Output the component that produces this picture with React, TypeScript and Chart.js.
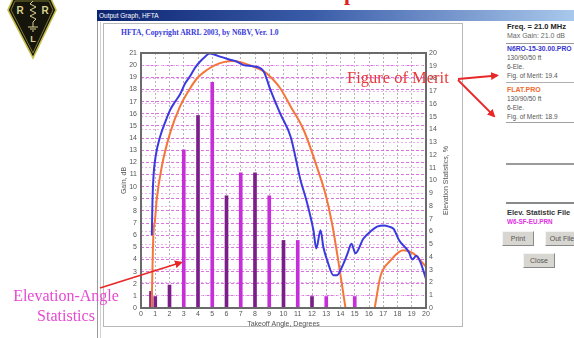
import React, { useEffect, useRef } from "react";
import { Chart, registerables } from "chart.js";

Chart.register(...registerables);

// Elevation-angle statistics (% of openings) vs takeoff angle
const statAngles = [0.7, 1, 2, 3, 4, 5, 6, 7, 8, 9, 10, 11, 12, 13, 15];
const statPercent = [1.3, 0.9, 1.8, 12.4, 15.1, 17.7, 8.8, 10.6, 10.6, 8.8, 5.3, 5.3, 0.9, 0.9, 0.9];

// N6RO-15-30.00.PRO gain (dBi)
const n6roAngles = [0.76, 0.8, 0.86, 1.03, 1.34, 1.7, 2.04, 2.4, 2.74, 3.1, 3.45, 3.8, 4.15, 4.5, 4.8, 5.2, 5.55, 6.25, 6.7, 7.2, 7.9, 8.6, 9.07, 9.77, 10.5, 11.2, 11.6, 12.1, 12.3, 12.6, 12.8, 13.1, 13.5, 13.76, 14.11, 14.5, 14.77, 15.05, 15.6, 16.1, 16.57, 17.03, 17.4, 17.74, 18.1, 18.8, 19.04, 19.33, 19.6, 20];
const n6roGain = [6.0, 8.5, 10.5, 12.5, 14.1, 15.3, 16.3, 17.0, 17.6, 18.5, 19.1, 19.8, 20.3, 20.7, 20.95, 20.85, 20.7, 20.45, 20.3, 20.0, 19.9, 19.5, 18.0, 16.0, 14.1, 10.5, 8.9, 6.4, 4.9, 6.4, 5.0, 3.8, 2.7, 2.7, 3.4, 4.5, 5.3, 4.5, 5.7, 6.3, 6.7, 6.8, 6.7, 6.5, 5.6, 4.6, 4.0, 4.3, 3.8, 2.4];

// FLAT.PRO gain (dBi); null = below 0 dB (gap)
const flatAngles = [0.75, 0.8, 0.87, 0.98, 1.1, 1.45, 2.04, 2.74, 3.45, 4.0, 4.62, 5.2, 5.8, 6.4, 7.0, 7.6, 8.6, 9.2, 9.77, 10.5, 11.4, 12.35, 12.94, 13.4, 13.87, 14.35, 15.4, 16.4, 16.8, 17.5, 18.4, 19.1, 20];
const flatGain = [0, 3.0, 6.1, 7.2, 8.9, 11.6, 14.4, 16.6, 18.1, 19.0, 19.6, 20.0, 20.25, 20.35, 20.25, 20.0, 19.5, 18.9, 18.1, 16.6, 14.7, 11.6, 9.4, 7.0, 3.7, 0, null, 0, 2.6, 3.9, 4.75, 4.5, 3.4];

const xTitle = "Takeoff Angle, Degrees";
const yTitle = "Gain, dB";
const y2Title = "Elevation Statistics, %";

const BLUE = "#3a3ae0";
const ORANGE = "#f5763a";
const PURPLE = "#7a1f88";
const MAGENTA = "#c52fd8";
const FONT = "'Liberation Sans', Arial, sans-serif";

const framePlugin = {
  id: "frameAndRightTitle",
  afterDatasetsDraw(chart: any) {
    const { ctx, chartArea: a } = chart;
    ctx.save();
    ctx.strokeStyle = "#6a6a6a";
    ctx.lineWidth = 2;
    ctx.strokeRect(a.left, a.top, a.right - a.left, a.bottom - a.top);
    ctx.restore();
  },
  afterDraw(chart: any) {
    const { ctx, chartArea: a } = chart;
    const s = chart.scales.y2;
    ctx.save();
    ctx.translate(s.right - 16, (a.top + a.bottom) / 2);
    ctx.rotate(-Math.PI / 2);
    ctx.font = `7px ${FONT}`;
    ctx.fillStyle = "#555";
    ctx.textAlign = "center";
    ctx.textBaseline = "middle";
    ctx.fillText(y2Title, 0, 0);
    ctx.restore();
  },
};

function ChartCanvas() {
  const ref = useRef<HTMLCanvasElement | null>(null);
  useEffect(() => {
    if (!ref.current) return;
    const barColor = (a: number) => (Number.isInteger(a) && a % 2 === 1 && a >= 3 ? MAGENTA : PURPLE);
    const chart = new Chart(ref.current, {
      type: "bar",
      data: {
        datasets: [
          {
            type: "line",
            label: "N6RO-15-30.00.PRO",
            data: n6roAngles.map((x, i) => ({ x, y: n6roGain[i] })),
            yAxisID: "y",
            borderColor: BLUE,
            borderWidth: 2,
            pointRadius: 0,
            cubicInterpolationMode: "monotone",
            order: 1,
          } as any,
          {
            type: "line",
            label: "FLAT.PRO",
            data: flatAngles.map((x, i) => ({ x, y: flatGain[i] })),
            yAxisID: "y",
            borderColor: ORANGE,
            borderWidth: 2,
            pointRadius: 0,
            spanGaps: false,
            cubicInterpolationMode: "monotone",
            order: 2,
          } as any,
          {
            type: "bar",
            label: "W6-SF-EU.PRN",
            data: statAngles.map((x, i) => ({ x, y: statPercent[i] })),
            yAxisID: "y2",
            backgroundColor: statAngles.map(barColor),
            barThickness: 3,
            order: 3,
          } as any,
        ],
      },
      options: {
        responsive: false,
        animation: false,
        layout: { padding: { top: 13, left: 0, right: 0, bottom: 0 } },
        plugins: { legend: { display: false }, tooltip: { enabled: false } },
        scales: {
          x: {
            type: "linear",
            min: 0,
            max: 20,
            offset: false,
            afterFit: (s: any) => { s.height = 24; },
            ticks: { stepSize: 1, autoSkip: false, maxRotation: 0, padding: 2, color: "#555", font: { family: FONT, size: 7 } },
            grid: { color: "#b4b4b4", drawTicks: false, offset: false },
            border: { display: false, dash: [2, 2] },
            title: { display: true, text: xTitle, color: "#555", font: { family: FONT, size: 7 }, padding: { top: 0, bottom: 3.8 } },
          },
          y: {
            type: "linear",
            position: "left",
            min: 0,
            max: 21,
            afterFit: (s: any) => { s.width = 37; },
            ticks: { stepSize: 1, autoSkip: false, padding: 4, color: "#555", font: { family: FONT, size: 7 } },
            grid: { color: "#dc72e2", drawTicks: false },
            border: { display: false, dash: [3, 2] },
            title: { display: true, text: yTitle, color: "#555", font: { family: FONT, size: 7 }, padding: { top: 15.8, bottom: 0 } },
          },
          y2: {
            type: "linear",
            position: "right",
            min: 0,
            max: 20,
            afterFit: (s: any) => { s.width = 36; },
            ticks: { stepSize: 1, autoSkip: false, padding: 3, color: "#555", font: { family: FONT, size: 7 } },
            grid: { color: "#ecb4ee", drawTicks: false, drawOnChartArea: true },
            border: { display: false, dash: [2, 2] },
          },
        },
      } as any,
      plugins: [framePlugin],
    });
    return () => chart.destroy();
  }, []);
  return (
    <canvas
      ref={ref}
      width={358}
      height={292}
      style={{ position: "absolute", left: 104, top: 40, width: 358, height: 292 }}
    />
  );
}

function T(props: { x: number; y: number; size: number; bold?: boolean; color?: string; family?: string; children: any }) {
  const { x, y, size, bold, color, family, children } = props;
  return (
    <div
      style={{
        position: "absolute",
        left: x,
        top: y - size * 0.6,
        fontSize: size,
        lineHeight: `${size * 1.2}px`,
        fontWeight: bold ? 700 : 400,
        color: color || "#444",
        fontFamily: family || FONT,
        whiteSpace: "nowrap",
      }}
    >
      {children}
    </div>
  );
}

function Button(props: { x: number; y: number; w: number; h: number; label: string }) {
  return (
    <div
      style={{
        position: "absolute",
        left: props.x,
        top: props.y,
        width: props.w,
        height: props.h,
        boxSizing: "border-box",
        background: "#d8d6d0",
        borderTop: "1px solid #f4f4f4",
        borderLeft: "1px solid #f4f4f4",
        borderRight: "1px solid #8a8a8a",
        borderBottom: "1px solid #8a8a8a",
        fontFamily: FONT,
        fontSize: 7,
        color: "#555",
        display: "flex",
        alignItems: "center",
        justifyContent: "center",
        whiteSpace: "nowrap",
        overflow: "hidden",
      }}
    >
      {props.label}
    </div>
  );
}

function Line(props: { x: number; y: number; w: number; h?: number; color?: string }) {
  return (
    <div style={{ position: "absolute", left: props.x, top: props.y, width: props.w, height: props.h || 1, background: props.color || "#a0a0a0" }} />
  );
}

export default function App() {
  return (
    <div style={{ position: "absolute", left: 0, top: 0, width: 574, height: 338, overflow: "hidden", background: "#fff" }}>
      {/* ARRL logo */}
      <svg width={70} height={62} style={{ position: "absolute", left: 0, top: 0 }}>
        <polygon points="13,-1 51,-1 56,10 33,58 8,10" fill="#15150c" stroke="#c6be48" strokeWidth={1.6} />
        <polygon points="15,1 49,1 53,10 33,53 11,10" fill="none" stroke="#a8a040" strokeWidth={0.7} />
        <text x={20} y={14} fontSize={10} fontWeight={700} fill="#d8d290" textAnchor="middle" fontFamily={FONT}>R</text>
        <text x={45} y={14} fontSize={10} fontWeight={700} fill="#d8d290" textAnchor="middle" fontFamily={FONT}>R</text>
        <text x={33} y={42} fontSize={9} fontWeight={700} fill="#d8d290" textAnchor="middle" fontFamily={FONT}>L</text>
        <path d="M33,1 L30,4 L36,7 L30,10 L36,13 L30,16 L36,19 L33,22 L33,27" fill="none" stroke="#d8d290" strokeWidth={1} />
        <path d="M28,27 L38,27 M30,29 L36,29 M32,31 L34,31" stroke="#d8d290" strokeWidth={1} />
      </svg>

      {/* fragment of the slide title */}
      <div style={{ position: "absolute", left: 344, top: 0, width: 12, height: 8, overflow: "hidden" }}>
        <div style={{ position: "absolute", left: 0, top: -20, fontFamily: "'Liberation Serif', serif", fontSize: 22, fontWeight: 700, color: "#e02020" }}>p</div>
      </div>

      {/* window */}
      <div style={{ position: "absolute", left: 97, top: 10, width: 477, height: 330, background: "#fff", borderLeft: "1px solid #9a9a9a" }} />
      <div style={{ position: "absolute", left: 100, top: 22, width: 1, height: 318, background: "#d0d0d0" }} />
      <div
        style={{
          position: "absolute",
          left: 97,
          top: 10,
          width: 477,
          height: 11,
          background: "linear-gradient(to right, #0c2470 0%, #3a5ca8 45%, #a9c8ec 100%)",
        }}
      />
      <T x={99} y={15.8} size={6.5} color="#ffffff">Output Graph, HFTA</T>

      {/* chart panel */}
      <div style={{ position: "absolute", left: 103, top: 23, width: 360, height: 304, border: "1px solid #b8b8b8", boxSizing: "border-box", background: "#fff" }} />
      <T x={121} y={32.7} size={7.6} bold color="#3a3ad8" family="'Liberation Serif', serif">HFTA, Copyright ARRL 2003, by N6BV, Ver. 1.0</T>

      <ChartCanvas />

      {/* right info panel */}
      <T x={507} y={26.7} size={7.5} bold color="#222">Freq. = 21.0 MHz</T>
      <T x={507} y={36} size={7} color="#666">Max Gain: 21.0 dB</T>
      <Line x={506} y={43} w={68} color="#9a9a9a" />
      <T x={507} y={49} size={6.8} bold color="#3535d0">N6RO-15-30.00.PRO</T>
      <T x={507} y={57.7} size={6.5} color="#555">130/90/50 ft</T>
      <T x={507} y={66.7} size={6.5} color="#555">6-Ele.</T>
      <T x={507} y={75.7} size={6.5} color="#555">Fig. of Merit: 19.4</T>
      <Line x={506} y={82} w={68} color="#b0b0b0" />
      <T x={507} y={89.7} size={7} bold color="#f06a30">FLAT.PRO</T>
      <T x={507} y={98.7} size={6.5} color="#555">130/90/50 ft</T>
      <T x={507} y={107.7} size={6.5} color="#555">6-Ele.</T>
      <T x={507} y={117} size={6.5} color="#555">Fig. of Merit: 18.9</T>
      <Line x={506} y={122} w={68} color="#a0a0a0" />
      <Line x={506} y={163} w={68} h={2} color="#9a9a9a" />
      <Line x={506} y={202} w={68} h={2} color="#8a8a8a" />
      <T x={507} y={212.7} size={7.5} bold color="#333">Elev. Statistic File</T>
      <T x={507} y={221.7} size={6.3} bold color="#e030e0">W6-SF-EU.PRN</T>
      <Button x={502} y={231} w={32} h={15} label="Print" />
      <Button x={545} y={231} w={34} h={15} label="Out File" />
      <Button x={523} y={253} w={32} h={15} label="Close" />

      {/* annotations */}
      <T x={347} y={78.3} size={16.5} color="#e83a3a" family="'Liberation Serif', serif">Figure of Merit</T>
      <div style={{ position: "absolute", left: 7, top: 286, width: 118, textAlign: "center", fontFamily: "'Liberation Serif', serif", fontSize: 16, lineHeight: "20px", color: "#e64ad0" }}>
        Elevation-Angle
        <br />
        Statistics
      </div>
      <svg width={574} height={338} style={{ position: "absolute", left: 0, top: 0, pointerEvents: "none" }}>
        <defs>
          <marker id="ah" markerWidth="8" markerHeight="8" refX="6" refY="4" orient="auto" markerUnits="userSpaceOnUse">
            <path d="M0,0 L8,4 L0,8 z" fill="#e82828" />
          </marker>
        </defs>
        <line x1={458} y1={79} x2={497} y2={75.5} stroke="#e82828" strokeWidth={1.8} markerEnd="url(#ah)" />
        <line x1={458} y1={80} x2={494} y2={116} stroke="#e82828" strokeWidth={1.8} markerEnd="url(#ah)" />
        <line x1={100} y1={288} x2={181} y2={262.5} stroke="#e82828" strokeWidth={1.8} markerEnd="url(#ah)" />
      </svg>
    </div>
  );
}
